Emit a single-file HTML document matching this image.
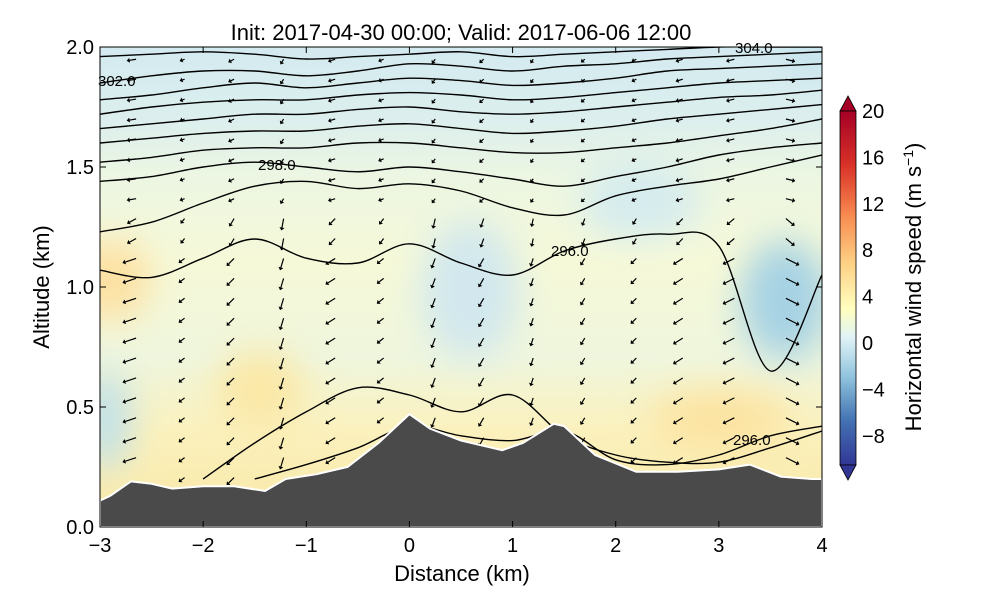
<!DOCTYPE html>
<html><head><meta charset="utf-8"><style>
body{margin:0;background:#fff;}
svg{display:block;font-family:"Liberation Sans","DejaVu Sans",sans-serif;}
</style></head><body>
<svg id="chart" width="1000" height="600" viewBox="0 0 1000 600">
<defs>
<linearGradient id="bg" x1="0" y1="0" x2="0" y2="1">
<stop offset="0" stop-color="#d3eaf0"/><stop offset="0.15" stop-color="#dcefee"/>
<stop offset="0.27" stop-color="#ecf6e2"/><stop offset="0.45" stop-color="#f6f9d8"/>
<stop offset="0.65" stop-color="#eff6dd"/><stop offset="0.8" stop-color="#fbf1bd"/>
<stop offset="1" stop-color="#f9e8a6"/></linearGradient>
<linearGradient id="cb" x1="0" y1="1" x2="0" y2="0">
<stop offset="0" stop-color="#313695"/><stop offset="0.13" stop-color="#4575b4"/>
<stop offset="0.25" stop-color="#91c4dd"/><stop offset="0.36" stop-color="#e0f3f7"/>
<stop offset="0.44" stop-color="#ffffbf"/><stop offset="0.57" stop-color="#fdd185"/>
<stop offset="0.7" stop-color="#f88d52"/><stop offset="0.85" stop-color="#d93027"/>
<stop offset="1" stop-color="#a50026"/></linearGradient>
<filter id="blur"><feGaussianBlur stdDeviation="18"/></filter>
<clipPath id="clip"><rect x="100" y="47" width="722" height="480"/></clipPath>
</defs>
<text x="461" y="40" text-anchor="middle" font-size="22">Init: 2017-04-30 00:00; Valid: 2017-06-06 12:00</text>
<g clip-path="url(#clip)">
<rect x="100" y="47" width="722" height="480" fill="url(#bg)"/>
<g filter="url(#blur)">
<ellipse cx="470" cy="290" rx="50" ry="70" fill="#d2e8ee"/>
<ellipse cx="785" cy="300" rx="45" ry="60" fill="#a6d2e4"/>
<ellipse cx="105" cy="420" rx="25" ry="50" fill="#bfe0ea"/>
<ellipse cx="110" cy="280" rx="40" ry="40" fill="#fde0a0"/>
<ellipse cx="260" cy="390" rx="45" ry="40" fill="#fbe8a6"/>
<ellipse cx="720" cy="420" rx="70" ry="30" fill="#fce3a0"/>
<ellipse cx="640" cy="200" rx="60" ry="40" fill="#d6ecee"/>
<ellipse cx="810" cy="55" rx="20" ry="15" fill="#b7dcea"/>
</g>
<g id="contours" fill="none" stroke="#000" stroke-width="1.4"></g>
<g id="arrows"></g>
<path id="terrain" fill="#4a4a4a" stroke="#fff" stroke-width="2"/>
</g>
<text x="98" y="86" font-size="15">302.0</text>
<text x="258" y="170" font-size="15">298.0</text>
<text x="551" y="256" font-size="15">296.0</text>
<text x="733" y="445" font-size="15">296.0</text>
<text x="735" y="53" font-size="15">304.0</text>
<rect x="100" y="47" width="722" height="480" fill="none" stroke="#000" stroke-width="1"/>
<g id="axes" font-size="20"></g>
<text x="462" y="581" text-anchor="middle" font-size="22">Distance (km)</text>
<text transform="translate(49,287) rotate(-90)" text-anchor="middle" font-size="22">Altitude (km)</text>
<g>
<polygon points="840,111 848,96 856,111" fill="#a50026" stroke="#000" stroke-width="0.8"/>
<rect x="840" y="111" width="16" height="354" fill="url(#cb)" stroke="#000" stroke-width="0.8"/>
<polygon points="840,465 848,480 856,465" fill="#313695" stroke="#000" stroke-width="0.8"/>
<g id="cbticks" font-size="20"></g>
<text transform="translate(921,287) rotate(-90)" text-anchor="middle" font-size="22">Horizontal wind speed (m s<tspan dy="-8" font-size="14">−1</tspan><tspan dy="8">)</tspan></text>
</g>
</svg>
<script>
const NS="http://www.w3.org/2000/svg";
const xTicks=[-3,-2,-1,0,1,2,3,4];
const yTicks=[0.0,0.5,1.0,1.5,2.0];
const cbTicks=[20,16,12,8,4,0,-4,-8];
const terrainX=[-3,-2.9,-2.7,-2.5,-2.3,-2,-1.7,-1.4,-1.2,-0.9,-0.6,-0.3,0,0.2,0.5,0.9,1.1,1.4,1.5,1.8,2.2,2.6,3.0,3.3,3.6,3.9,4];
const terrainZ=[0.11,0.13,0.19,0.18,0.16,0.17,0.17,0.15,0.2,0.22,0.25,0.35,0.47,0.41,0.36,0.32,0.35,0.43,0.42,0.3,0.23,0.23,0.24,0.26,0.21,0.2,0.2];
const contourX=[-3,-2.5,-2,-1.5,-1,-0.5,0,0.5,1,1.5,2,2.5,3,3.5,4];
const theta304=[1.96,1.97,1.98,1.97,1.95,1.96,1.97,1.98,1.96,1.97,1.98,1.99,2.0,2.0,2.0];
const theta303=[1.85,1.88,1.9,1.9,1.88,1.9,1.93,1.92,1.9,1.92,1.93,1.95,1.96,1.97,1.98];
const theta302=[1.78,1.8,1.83,1.85,1.83,1.85,1.87,1.86,1.84,1.85,1.87,1.9,1.91,1.92,1.93];
const theta301=[1.72,1.75,1.77,1.78,1.78,1.8,1.81,1.8,1.78,1.79,1.81,1.83,1.85,1.86,1.87];
const theta300=[1.66,1.68,1.7,1.72,1.72,1.74,1.75,1.73,1.72,1.73,1.75,1.77,1.79,1.8,1.82];
const theta299=[1.6,1.62,1.64,1.65,1.65,1.67,1.68,1.66,1.64,1.65,1.67,1.7,1.72,1.74,1.76];
const theta2985=[1.52,1.54,1.57,1.58,1.58,1.6,1.6,1.58,1.56,1.56,1.58,1.6,1.63,1.66,1.7];
const theta298=[1.44,1.46,1.5,1.52,1.5,1.48,1.5,1.48,1.45,1.42,1.46,1.5,1.55,1.58,1.6];
const theta297=[1.23,1.27,1.35,1.42,1.44,1.41,1.43,1.4,1.33,1.3,1.38,1.42,1.45,1.5,1.55];
const theta296=[1.07,1.04,1.12,1.2,1.12,1.1,1.18,1.1,1.05,1.15,1.2,1.22,1.17,0.65,1.05];
const theta295=[null,null,0.2,0.35,0.48,0.58,0.55,0.48,0.55,0.38,0.3,0.27,0.27,0.33,0.4];
const theta294=[null,null,null,0.2,0.26,0.33,0.42,0.38,0.36,0.4,0.28,0.26,0.3,0.38,0.42];
const contours=[theta304,theta303,theta302,theta301,theta300,theta299,theta2985,theta298,theta297,theta296,theta295,theta294];
const arrowCols=[-2.65,-2.18,-1.7,-1.22,-0.72,-0.25,0.25,0.72,1.2,1.7,2.2,2.65,3.15,3.65];
const arrowU=[-1.2,-0.4,-0.6,-0.3,-0.8,-0.5,-0.3,-0.4,-0.2,-0.3,-0.4,-0.8,-1.0,1.2];
const arrowW=[0.4,0.3,0.6,1.0,0.5,0.4,0.8,0.7,0.6,0.5,0.4,0.5,0.5,0.6];
const xs=v=>100+(v+3)*722/7, ys=v=>527-v*240, cy=v=>343-v*11.6;
function terrainAt(x){for(let i=1;i<terrainX.length;i++){if(x<=terrainX[i]){const t=(x-terrainX[i-1])/(terrainX[i]-terrainX[i-1]);return terrainZ[i-1]+t*(terrainZ[i]-terrainZ[i-1]);}}return terrainZ[terrainZ.length-1];}
function smooth(pts){let d="M"+pts[0][0]+","+pts[0][1];for(let i=0;i<pts.length-1;i++){const p0=pts[i-1]||pts[i],p1=pts[i],p2=pts[i+1],p3=pts[i+2]||p2;d+=" C"+(p1[0]+(p2[0]-p0[0])/6)+","+(p1[1]+(p2[1]-p0[1])/6)+" "+(p2[0]-(p3[0]-p1[0])/6)+","+(p2[1]-(p3[1]-p1[1])/6)+" "+p2[0]+","+p2[1];}return d;}
const tg=document.getElementById('terrain');
let td="M100,527";terrainX.forEach((x,i)=>td+=" L"+xs(x)+","+ys(terrainZ[i]));td+=" L822,527 Z";tg.setAttribute('d',td);
const cg=document.getElementById('contours');
contours.forEach((arr,k)=>{const pts=[];arr.forEach((v,i)=>{if(v!==null)pts.push([xs(contourX[i]),ys(v)]);});
const p=document.createElementNS(NS,'path');p.setAttribute('d',smooth(pts));


cg.appendChild(p);});
const ag=document.getElementById('arrows');
arrowCols.forEach((x,i)=>{for(let z=0.04;z<1.95;z+=0.083){const tz=terrainAt(x);if(z<tz+0.03)continue;
const f=z<1.2?1:0.6;const u=arrowU[i]*f,w=-arrowW[i]*(z<1.3?1:0.3);
const x0=xs(x),y0=ys(z),dx=u*9,dy=-w*9,L=Math.hypot(dx,dy)||1;
const g=document.createElementNS(NS,'g');


const ln=document.createElementNS(NS,'line');ln.setAttribute('x1',x0);ln.setAttribute('y1',y0);ln.setAttribute('x2',x0+dx);ln.setAttribute('y2',y0+dy);ln.setAttribute('stroke','#000');ln.setAttribute('stroke-width','1.2');g.appendChild(ln);
const ux=dx/L,uy=dy/L,hx=x0+dx,hy=y0+dy;const pg=document.createElementNS(NS,'polygon');
pg.setAttribute('points',(hx+ux*3)+","+(hy+uy*3)+" "+(hx-uy*2.5)+","+(hy+ux*2.5)+" "+(hx+uy*2.5)+","+(hy-ux*2.5));pg.setAttribute('fill','#000');g.appendChild(pg);ag.appendChild(g);}});
const ax=document.getElementById('axes');
xTicks.forEach(v=>{const t=document.createElementNS(NS,'text');t.setAttribute('x',xs(v));t.setAttribute('y',552);t.setAttribute('text-anchor','middle');t.textContent=(v<0?"−"+(-v):v);


ax.appendChild(t);const l=document.createElementNS(NS,'path');l.setAttribute('d',`M${xs(v)},527v-6M${xs(v)},47v6`);l.setAttribute('stroke','#000');ax.appendChild(l);});
yTicks.forEach(v=>{const t=document.createElementNS(NS,'text');t.setAttribute('x',94);t.setAttribute('y',ys(v)+7);t.setAttribute('text-anchor','end');t.textContent=v.toFixed(1);


ax.appendChild(t);const l=document.createElementNS(NS,'path');l.setAttribute('d',`M100,${ys(v)}h6M822,${ys(v)}h-6`);l.setAttribute('stroke','#000');ax.appendChild(l);});
const cbg=document.getElementById('cbticks');
cbTicks.forEach(v=>{const t=document.createElementNS(NS,'text');t.setAttribute('x',862);t.setAttribute('y',cy(v)+7);t.textContent=(v<0?"−"+(-v):v);


cbg.appendChild(t);});
</script>
</body></html>
